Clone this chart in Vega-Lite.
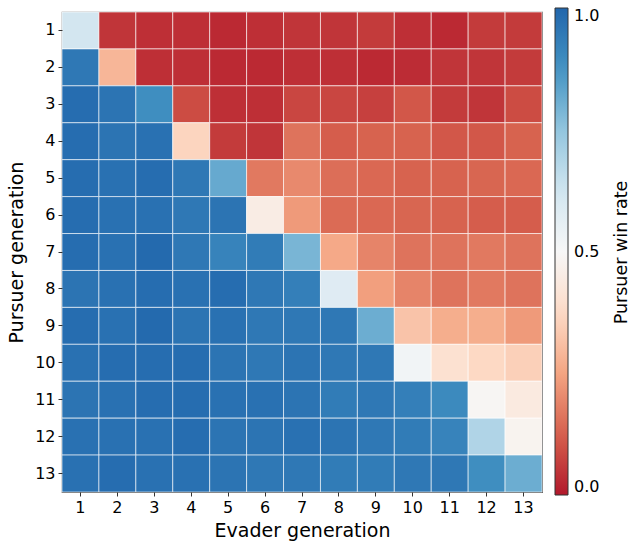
{
  "$schema": "https://vega.github.io/schema/vega-lite/v6.json",
  "width": 480,
  "height": 480,
  "autosize": {"type": "none"},
  "padding": {"left": 62, "top": 12, "right": 87, "bottom": 49},
  "background": "white",
  "config": {
    "font": "DejaVu Sans",
    "view": {"stroke": "#555555", "strokeWidth": 1.2}
  },
  "data": {"values": [
    {"p":1,"e":1,"v":0.62},{"p":1,"e":2,"v":0.05},{"p":1,"e":3,"v":0.04},{"p":1,"e":4,"v":0.04},{"p":1,"e":5,"v":0.03},{"p":1,"e":6,"v":0.04},{"p":1,"e":7,"v":0.05},{"p":1,"e":8,"v":0.05},{"p":1,"e":9,"v":0.06},{"p":1,"e":10,"v":0.04},{"p":1,"e":11,"v":0.03},{"p":1,"e":12,"v":0.06},{"p":1,"e":13,"v":0.06},
    {"p":2,"e":1,"v":0.95},{"p":2,"e":2,"v":0.29},{"p":2,"e":3,"v":0.04},{"p":2,"e":4,"v":0.04},{"p":2,"e":5,"v":0.03},{"p":2,"e":6,"v":0.03},{"p":2,"e":7,"v":0.04},{"p":2,"e":8,"v":0.04},{"p":2,"e":9,"v":0.03},{"p":2,"e":10,"v":0.035},{"p":2,"e":11,"v":0.05},{"p":2,"e":12,"v":0.05},{"p":2,"e":13,"v":0.06},
    {"p":3,"e":1,"v":0.98},{"p":3,"e":2,"v":0.96},{"p":3,"e":3,"v":0.89},{"p":3,"e":4,"v":0.09},{"p":3,"e":5,"v":0.04},{"p":3,"e":6,"v":0.04},{"p":3,"e":7,"v":0.08},{"p":3,"e":8,"v":0.08},{"p":3,"e":9,"v":0.07},{"p":3,"e":10,"v":0.11},{"p":3,"e":11,"v":0.06},{"p":3,"e":12,"v":0.05},{"p":3,"e":13,"v":0.09},
    {"p":4,"e":1,"v":0.98},{"p":4,"e":2,"v":0.96},{"p":4,"e":3,"v":0.97},{"p":4,"e":4,"v":0.36},{"p":4,"e":5,"v":0.06},{"p":4,"e":6,"v":0.05},{"p":4,"e":7,"v":0.16},{"p":4,"e":8,"v":0.12},{"p":4,"e":9,"v":0.13},{"p":4,"e":10,"v":0.13},{"p":4,"e":11,"v":0.11},{"p":4,"e":12,"v":0.11},{"p":4,"e":13,"v":0.13},
    {"p":5,"e":1,"v":0.98},{"p":5,"e":2,"v":0.97},{"p":5,"e":3,"v":0.98},{"p":5,"e":4,"v":0.95},{"p":5,"e":5,"v":0.82},{"p":5,"e":6,"v":0.17},{"p":5,"e":7,"v":0.2},{"p":5,"e":8,"v":0.15},{"p":5,"e":9,"v":0.14},{"p":5,"e":10,"v":0.13},{"p":5,"e":11,"v":0.13},{"p":5,"e":12,"v":0.135},{"p":5,"e":13,"v":0.14},
    {"p":6,"e":1,"v":0.98},{"p":6,"e":2,"v":0.97},{"p":6,"e":3,"v":0.97},{"p":6,"e":4,"v":0.95},{"p":6,"e":5,"v":0.96},{"p":6,"e":6,"v":0.45},{"p":6,"e":7,"v":0.23},{"p":6,"e":8,"v":0.145},{"p":6,"e":9,"v":0.14},{"p":6,"e":10,"v":0.135},{"p":6,"e":11,"v":0.13},{"p":6,"e":12,"v":0.12},{"p":6,"e":13,"v":0.12},
    {"p":7,"e":1,"v":0.98},{"p":7,"e":2,"v":0.97},{"p":7,"e":3,"v":0.99},{"p":7,"e":4,"v":0.95},{"p":7,"e":5,"v":0.92},{"p":7,"e":6,"v":0.94},{"p":7,"e":7,"v":0.79},{"p":7,"e":8,"v":0.26},{"p":7,"e":9,"v":0.19},{"p":7,"e":10,"v":0.16},{"p":7,"e":11,"v":0.16},{"p":7,"e":12,"v":0.17},{"p":7,"e":13,"v":0.16},
    {"p":8,"e":1,"v":0.96},{"p":8,"e":2,"v":0.97},{"p":8,"e":3,"v":0.98},{"p":8,"e":4,"v":0.97},{"p":8,"e":5,"v":0.98},{"p":8,"e":6,"v":0.95},{"p":8,"e":7,"v":0.93},{"p":8,"e":8,"v":0.58},{"p":8,"e":9,"v":0.24},{"p":8,"e":10,"v":0.19},{"p":8,"e":11,"v":0.16},{"p":8,"e":12,"v":0.17},{"p":8,"e":13,"v":0.16},
    {"p":9,"e":1,"v":0.98},{"p":9,"e":2,"v":0.97},{"p":9,"e":3,"v":0.99},{"p":9,"e":4,"v":0.96},{"p":9,"e":5,"v":0.97},{"p":9,"e":6,"v":0.95},{"p":9,"e":7,"v":0.95},{"p":9,"e":8,"v":0.95},{"p":9,"e":9,"v":0.81},{"p":9,"e":10,"v":0.32},{"p":9,"e":11,"v":0.27},{"p":9,"e":12,"v":0.27},{"p":9,"e":13,"v":0.23},
    {"p":10,"e":1,"v":0.97},{"p":10,"e":2,"v":0.98},{"p":10,"e":3,"v":0.98},{"p":10,"e":4,"v":0.98},{"p":10,"e":5,"v":0.96},{"p":10,"e":6,"v":0.95},{"p":10,"e":7,"v":0.96},{"p":10,"e":8,"v":0.95},{"p":10,"e":9,"v":0.95},{"p":10,"e":10,"v":0.52},{"p":10,"e":11,"v":0.4},{"p":10,"e":12,"v":0.37},{"p":10,"e":13,"v":0.35},
    {"p":11,"e":1,"v":0.96},{"p":11,"e":2,"v":0.97},{"p":11,"e":3,"v":0.98},{"p":11,"e":4,"v":0.98},{"p":11,"e":5,"v":0.97},{"p":11,"e":6,"v":0.97},{"p":11,"e":7,"v":0.96},{"p":11,"e":8,"v":0.94},{"p":11,"e":9,"v":0.95},{"p":11,"e":10,"v":0.93},{"p":11,"e":11,"v":0.9},{"p":11,"e":12,"v":0.49},{"p":11,"e":13,"v":0.44},
    {"p":12,"e":1,"v":0.97},{"p":12,"e":2,"v":0.97},{"p":12,"e":3,"v":0.97},{"p":12,"e":4,"v":0.98},{"p":12,"e":5,"v":0.96},{"p":12,"e":6,"v":0.96},{"p":12,"e":7,"v":0.97},{"p":12,"e":8,"v":0.96},{"p":12,"e":9,"v":0.95},{"p":12,"e":10,"v":0.94},{"p":12,"e":11,"v":0.92},{"p":12,"e":12,"v":0.69},{"p":12,"e":13,"v":0.48},
    {"p":13,"e":1,"v":0.97},{"p":13,"e":2,"v":0.98},{"p":13,"e":3,"v":0.97},{"p":13,"e":4,"v":0.97},{"p":13,"e":5,"v":0.96},{"p":13,"e":6,"v":0.95},{"p":13,"e":7,"v":0.95},{"p":13,"e":8,"v":0.94},{"p":13,"e":9,"v":0.94},{"p":13,"e":10,"v":0.95},{"p":13,"e":11,"v":0.95},{"p":13,"e":12,"v":0.89},{"p":13,"e":13,"v":0.81}
  ]},
  "layer": [
    {
      "mark": {"type": "rect", "stroke": "#ffffff", "strokeOpacity": 0.6, "strokeWidth": 1},
      "encoding": {
        "x": {
          "field": "e", "type": "ordinal", "title": "Evader generation",
          "scale": {"paddingInner": 0, "paddingOuter": 0},
          "axis": {"labelAngle": 0, "labelFontSize": 16, "labelColor": "#000000", "titleFontSize": 19, "titleFontWeight": "normal", "titleColor": "#000000", "tickSize": 4, "tickColor": "#333333", "domain": false, "labelPadding": 3, "titlePadding": 6}
        },
        "y": {
          "field": "p", "type": "ordinal", "title": "Pursuer generation",
          "scale": {"paddingInner": 0, "paddingOuter": 0},
          "axis": {"labelFontSize": 16, "labelColor": "#000000", "titleFontSize": 19, "titleFontWeight": "normal", "titleColor": "#000000", "tickSize": 4, "tickColor": "#333333", "domain": false, "labelPadding": 3, "titlePadding": 8}
        },
        "color": {
          "field": "v", "type": "quantitative",
          "scale": {"domain": [0, 1], "range": ["#b2182b", "#d6604d", "#f4a582", "#fddbc7", "#f7f7f7", "#d1e5f0", "#92c5de", "#4393c3", "#2166ac"], "interpolate": "rgb"},
          "legend": {
            "orient": "none", "legendX": 493, "legendY": -4, "direction": "vertical",
            "gradientLength": 487, "gradientThickness": 13, "gradientStrokeColor": "#333333", "gradientStrokeWidth": 1,
            "values": [0, 0.5, 1], "format": ".1f", "labelFontSize": 16, "labelColor": "#000000", "labelOffset": 6,
            "title": null
          }
        }
      }
    },
    {
      "mark": {"type": "rect", "opacity": 0},
      "encoding": {
        "x": {"field": "e", "type": "ordinal"},
        "y": {
          "field": "p", "type": "ordinal",
          "axis": {"orient": "right", "title": "Pursuer win rate", "labels": false, "ticks": false, "domain": false, "titleAngle": 270, "titleFontSize": 17.5, "titleFontWeight": "normal", "titleColor": "#000000", "titlePadding": 88, "titleBaseline": "bottom"}
        }
      }
    }
  ],
  "resolve": {"axis": {"y": "independent"}}
}
